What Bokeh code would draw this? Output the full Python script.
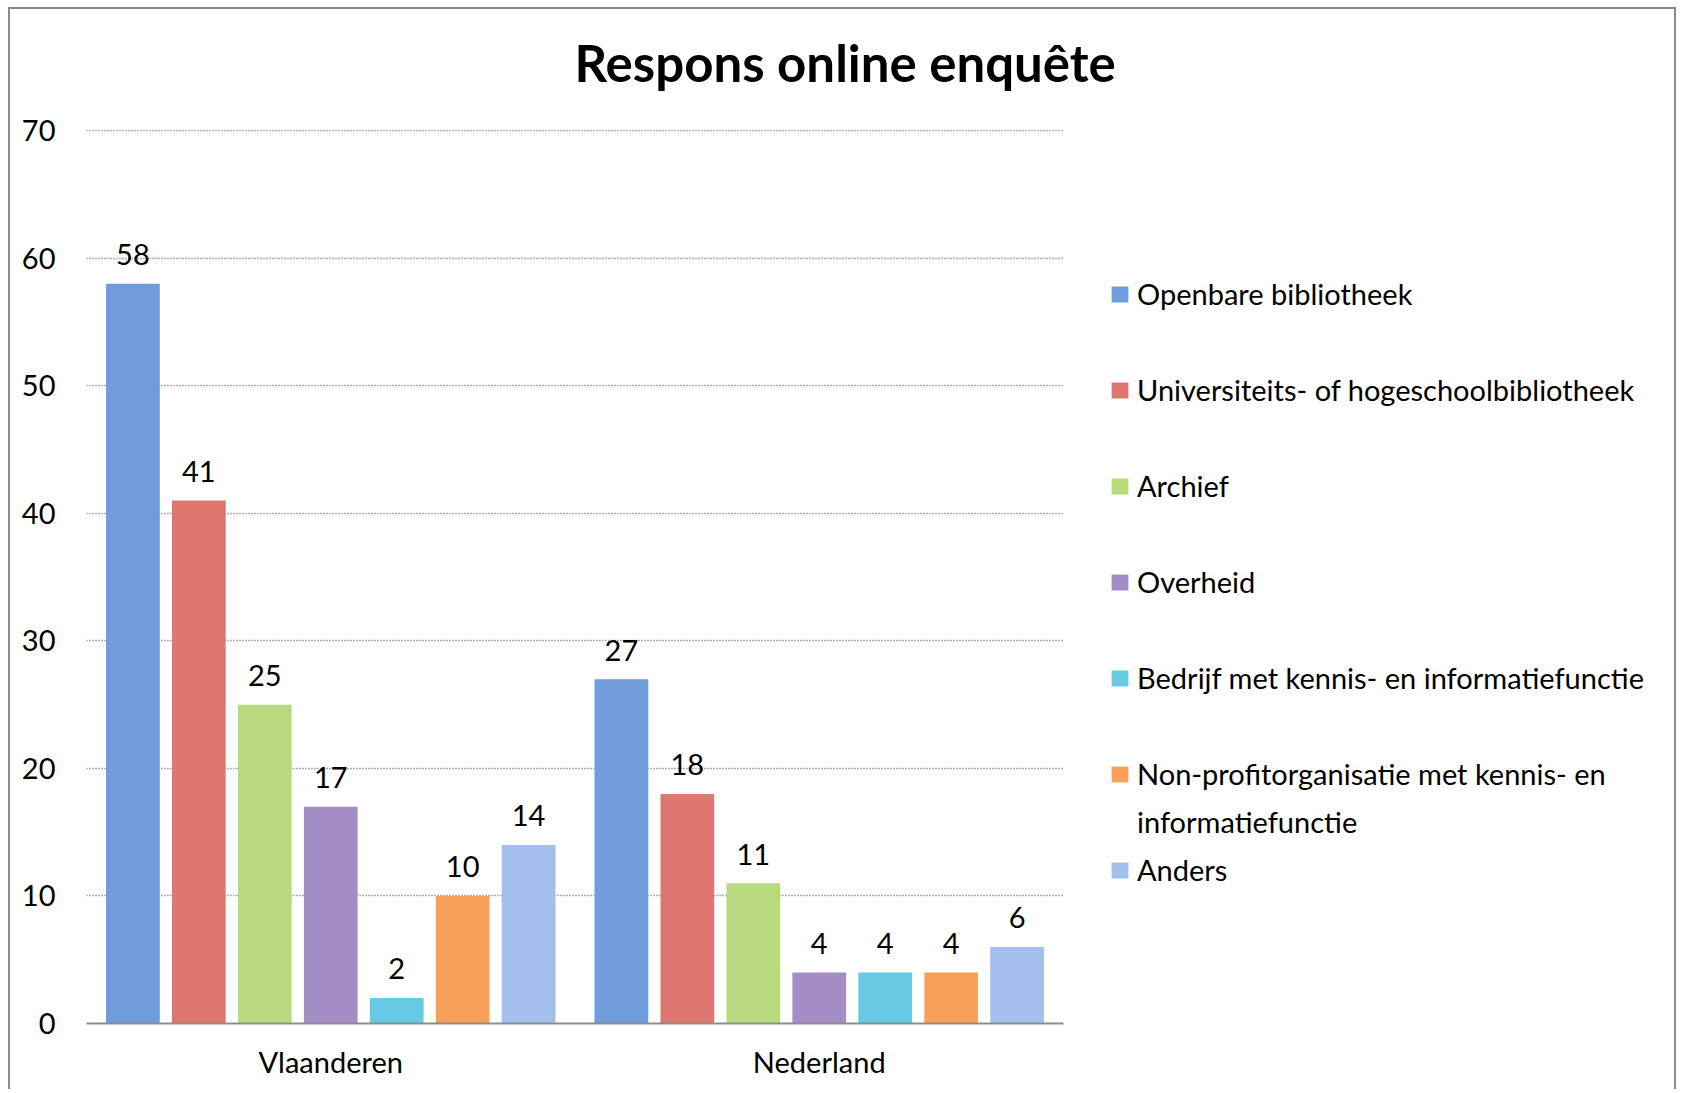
from bokeh.plotting import figure
from bokeh.models import ColumnDataSource, Range1d, Legend, LegendItem, FixedTicker, Title
from bokeh.transform import dodge
from bokeh.core.properties import value
from bokeh.embed import file_html
from bokeh.resources import INLINE

# ---------------- data ----------------
title_text = "Respons online enquête"
regions = ["Vlaanderen", "Nederland"]
categories = [
    "Openbare bibliotheek",
    "Universiteits- of hogeschoolbibliotheek",
    "Archief",
    "Overheid",
    "Bedrijf met kennis- en informatiefunctie",
    "Non-profitorganisatie met kennis- en informatiefunctie",
    "Anders",
]
legend_labels = [
    "Openbare bibliotheek",
    "Universiteits- of hogeschoolbibliotheek",
    "Archief",
    "Overheid",
    "Bedrijf met kennis- en informatiefunctie",
    "Non-profitorganisatie met kennis- en\ninformatiefunctie",
    "Anders",
]
vlaanderen = [58, 41, 25, 17, 2, 10, 14]
nederland = [27, 18, 11, 4, 4, 4, 6]
y_ticks = [0, 10, 20, 30, 40, 50, 60, 70]

colors = ["#6f9cda", "#de7770", "#b9d97f", "#a48dc4", "#67c9e3", "#f8a059", "#a3bfee"]

FONT = "Lato"
FS = "29px"

# category slots: region k occupies [k, k+1] on the x scale
region_pos = [k + 0.5 for k in range(len(regions))]
n_regions = len(regions)

p = figure(
    x_range=Range1d(0, 3.259),
    y_range=Range1d(0, 70.1),
    width=1668, height=1082,
    output_backend="svg", toolbar_location=None,
    min_border_left=76, min_border_right=0,
    min_border_top=120, min_border_bottom=68,
)
p.styles = {"border": "2px solid #8a8a8a", "border-bottom": "0px", "margin": "7px 0 0 8px"}
p.outline_line_color = None
p.background_fill_color = "white"
p.border_fill_color = "white"

p.title.text = title_text
p.title.text_font = FONT
p.title.text_font_style = "bold"
p.title.text_font_size = "51px"
p.title.text_color = "black"
p.title.align = "left"
p.title.offset = 488
p.title.standoff = 20

# thin spacer between the frame and the title (lifts the title)
spacer = Title(text=" ", text_font_size="1px", standoff=24, text_color="white")
p.add_layout(spacer, "above")

# y axis
p.yaxis.ticker = FixedTicker(ticks=y_ticks)
p.yaxis.axis_line_color = None
p.yaxis.major_tick_line_color = None
p.yaxis.minor_tick_line_color = None
p.yaxis.major_tick_out = 0
p.yaxis.major_tick_in = 0
p.yaxis.major_label_standoff = 31
p.yaxis.major_label_text_font = FONT
p.yaxis.major_label_text_font_size = FS
p.yaxis.major_label_text_color = "black"

# x axis (categorical labels on the region slots)
p.xaxis.ticker = FixedTicker(ticks=region_pos)
p.xaxis.major_label_overrides = {pos: name for pos, name in zip(region_pos, regions)}
p.xaxis.bounds = (0, n_regions)
p.xaxis.axis_line_color = "#8c8c8c"
p.xaxis.axis_line_width = 2
p.xaxis.major_tick_line_color = None
p.xaxis.minor_tick_line_color = None
p.xaxis.major_tick_out = 0
p.xaxis.major_tick_in = 0
p.xaxis.major_label_standoff = 20
p.xaxis.major_label_text_font = FONT
p.xaxis.major_label_text_font_size = FS
p.xaxis.major_label_text_color = "black"

p.xgrid.grid_line_color = None
grid_ok = True
try:
    p.ygrid.cross_bounds = (0, n_regions)
except Exception:
    grid_ok = False

if grid_ok:
    p.ygrid.grid_line_color = "#626262"
    p.ygrid.grid_line_dash = "1 2"
    p.ygrid.grid_line_width = 1.5
else:
    p.ygrid.grid_line_color = None
    gt = [t for t in y_ticks if t > 0]
    p.segment(x0=[0] * len(gt), x1=[n_regions] * len(gt), y0=gt, y1=gt,
              line_color="#626262", line_dash="1 2", line_width=1.5)

STEP = 0.135
BAR_W = 0.11

renderers = []
for i, cat in enumerate(categories):
    vals = [vlaanderen[i], nederland[i]]
    src = ColumnDataSource(dict(pos=region_pos, count=vals, lbl=[str(v) for v in vals]))
    off = (i - 3) * STEP
    r = p.vbar(x=dodge("pos", off), top="count", width=BAR_W,
               source=src, fill_color=colors[i], line_color=None)
    p.text(x=dodge("pos", off), y="count", text="lbl", source=src,
           text_align="center", text_baseline="middle", y_offset=-29,
           text_font=value(FONT), text_font_size=FS, text_color="black")
    renderers.append(r)

# invisible renderer used for spacer / continuation legend rows
dummy = p.vbar(x=[], top=[], width=0.1, fill_alpha=0, line_alpha=0)

items = []
for i, lab in enumerate(legend_labels):
    lines = lab.split("\n")
    items.append(LegendItem(label=value(lines[0]), renderers=[renderers[i]]))
    if i < len(legend_labels) - 1:
        if len(lines) > 1:
            items.append(LegendItem(label=value(lines[1]), renderers=[dummy]))
        else:
            items.append(LegendItem(label=value(""), renderers=[dummy]))

legend = Legend(
    items=items, location=(1023, 136), orientation="vertical",
    glyph_width=21, glyph_height=20, label_height=35, spacing=13,
    label_standoff=7, padding=0, margin=0,
    border_line_color=None, background_fill_alpha=0,
    label_text_font=FONT, label_text_font_size=FS, label_text_color="black",
    label_text_baseline="middle",
)
p.add_layout(legend, "center")

open("out.html", "w").write(file_html(p, INLINE))
